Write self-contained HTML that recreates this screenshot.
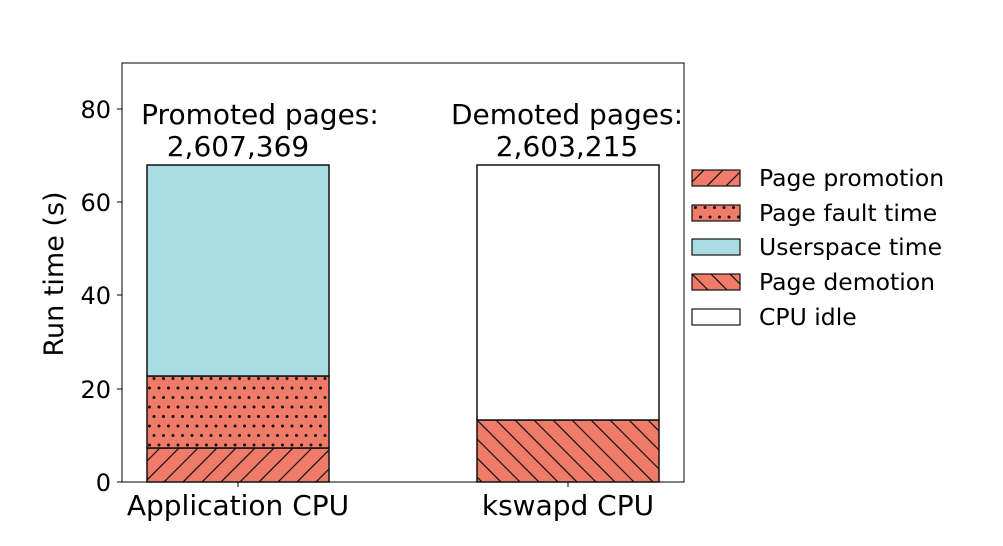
<!DOCTYPE html>
<html><head><meta charset="utf-8"><style>body{margin:0;background:#fff}svg{display:block}</style></head><body>
<svg width="1003" height="546" xmlns="http://www.w3.org/2000/svg" font-family="DejaVu Sans, sans-serif">
<defs>
<pattern id="fw" patternUnits="userSpaceOnUse" width="19" height="19"><rect width="19" height="19" fill="#f07b69"/><path d="M-5,5 L5,-5 M0,19 L19,0 M14,24 L24,14" stroke="#111" stroke-width="1.2"/></pattern>
<pattern id="bw" patternUnits="userSpaceOnUse" width="19" height="19"><rect width="19" height="19" fill="#f07b69"/><path d="M-5,14 L5,24 M0,0 L19,19 M14,-5 L24,5" stroke="#111" stroke-width="1.2"/></pattern>
<pattern id="dt" patternUnits="userSpaceOnUse" width="19" height="19" x="2" y="3"><rect width="19" height="19" fill="#f07b69"/><circle cx="5" cy="5" r="1.5" fill="#111"/><circle cx="14.5" cy="5" r="1.5" fill="#111"/><circle cx="0" cy="14.5" r="1.5" fill="#111"/><circle cx="9.5" cy="14.5" r="1.5" fill="#111"/><circle cx="19" cy="14.5" r="1.5" fill="#111"/></pattern>
</defs>
<rect x="122" y="63" width="562" height="419" fill="none" stroke="#000" stroke-width="1"/>
<rect x="147" y="448" width="182" height="34" fill="url(#fw)" stroke="#111" stroke-width="1.5"/>
<rect x="147" y="376" width="182" height="72" fill="url(#dt)" stroke="#111" stroke-width="1.5"/>
<rect x="147" y="165" width="182" height="211" fill="#a8dde4" stroke="#111" stroke-width="1.5"/>
<rect x="477" y="420" width="182" height="62" fill="url(#bw)" stroke="#111" stroke-width="1.5"/>
<rect x="477" y="165" width="182" height="255" fill="#fff" stroke="#111" stroke-width="1.5"/>
<g stroke="#000" stroke-width="1">
<line x1="117" y1="482" x2="122" y2="482"/><line x1="117" y1="389" x2="122" y2="389"/><line x1="117" y1="295" x2="122" y2="295"/><line x1="117" y1="202" x2="122" y2="202"/><line x1="117" y1="109" x2="122" y2="109"/>
<line x1="238" y1="482" x2="238" y2="487"/><line x1="568" y1="482" x2="568" y2="487"/>
</g>
<g font-size="24" text-anchor="end" fill="#000">
<text x="111" y="491">0</text><text x="111" y="398">20</text><text x="111" y="304">40</text><text x="111" y="211">60</text><text x="111" y="118">80</text>
</g>
<text transform="translate(63,274) rotate(-90)" font-size="27" text-anchor="middle">Run time (s)</text>
<g font-size="28" text-anchor="middle">
<text x="238" y="515">Application CPU</text><text x="568" y="515">kswapd CPU</text>
<text x="260" y="124">Promoted pages:</text><text x="238" y="156">2,607,369</text>
<text x="567" y="124">Demoted pages:</text><text x="567" y="156">2,603,215</text>
</g>
<g stroke="#111" stroke-width="1.2">
<rect x="692" y="170" width="48" height="16" fill="url(#fw)"/>
<rect x="692" y="205" width="48" height="16" fill="url(#dt)"/>
<rect x="692" y="239" width="48" height="16" fill="#a8dde4"/>
<rect x="692" y="274" width="48" height="16" fill="url(#bw)"/>
<rect x="692" y="309" width="48" height="16" fill="#fff"/>
</g>
<g font-size="23.5">
<text x="759" y="186">Page promotion</text>
<text x="759" y="221">Page fault time</text>
<text x="759" y="255">Userspace time</text>
<text x="759" y="290">Page demotion</text>
<text x="759" y="325">CPU idle</text>
</g>
</svg>
</body></html>
